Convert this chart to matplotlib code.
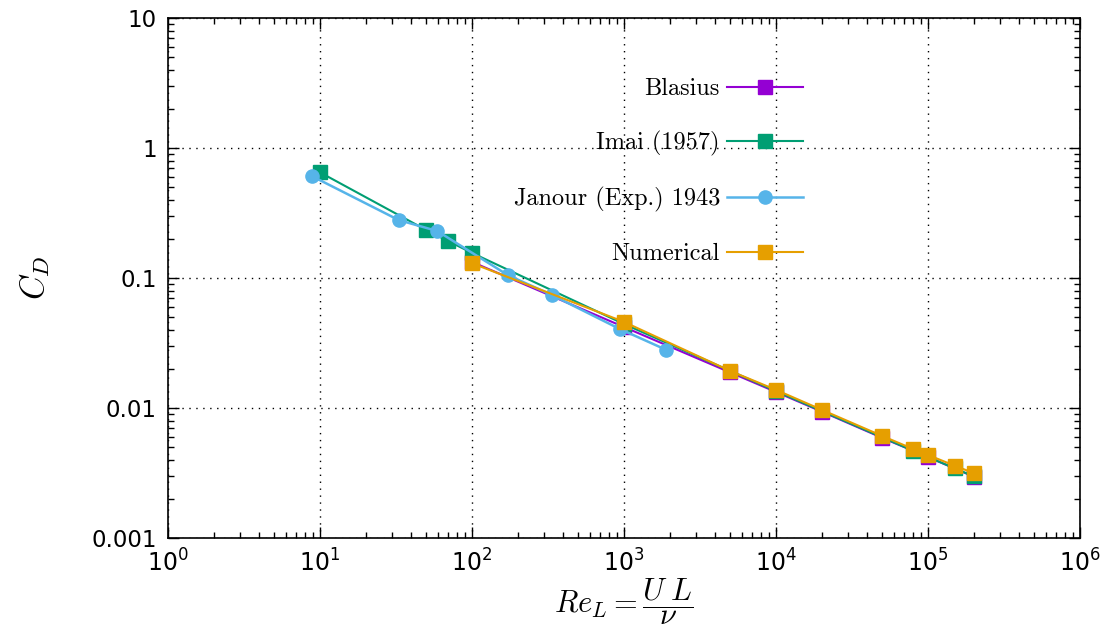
import matplotlib
matplotlib.use("Agg")
import matplotlib.pyplot as plt
from matplotlib.ticker import LogLocator, FixedFormatter, FixedLocator, NullFormatter

plt.rcParams['mathtext.fontset'] = 'cm'
plt.rcParams['font.family'] = ['DejaVu Sans']

# Data
blasius_re = [100, 1000, 5000, 1e4, 2e4, 5e4, 1e5, 2e5]
blasius_cd = [0.133, 0.042, 0.0188, 0.0133, 0.0094, 0.0059, 0.0042, 0.00297]

imai_re = [10, 50, 70, 100, 1000, 1e4, 8e4, 1.5e5, 2e5]
imai_cd = [0.65, 0.234, 0.192, 0.156, 0.0443, 0.0135, 0.00469, 0.00344, 0.00298]

janour_re = [8.8, 33, 59, 173, 336, 937, 1900]
janour_cd = [0.61, 0.279, 0.23, 0.105, 0.074, 0.0406, 0.028]

num_re = [100, 1000, 5000, 1e4, 2e4, 5e4, 8e4, 1e5, 1.5e5, 2e5]
num_cd = [0.130, 0.046, 0.0193, 0.0138, 0.0097, 0.0061, 0.00484, 0.00436, 0.0036, 0.00316]

x_ticks = [1, 10, 100, 1e3, 1e4, 1e5, 1e6]
x_labels = [r'$\mathdefault{10^{%d}}$' % i for i in range(7)]
y_ticks = [0.001, 0.01, 0.1, 1, 10]
y_labels = ['0.001', '0.01', '0.1', '1', '10']

fig = plt.figure(figsize=(11.03, 6.30), dpi=100)
ax = fig.add_axes([0.1523, 0.146, 0.8267, 0.8254])

c_purple = '#9400D3'
c_green = '#009E73'
c_blue = '#56B4E9'
c_orange = '#E69F00'

ax.plot(blasius_re, blasius_cd, '-s', color=c_purple, lw=1.5, ms=9.5, label='Blasius', zorder=3)
ax.plot(imai_re, imai_cd, '-s', color=c_green, lw=1.5, ms=9.5, label='Imai (1957)', zorder=4)
ax.plot(janour_re, janour_cd, '-o', color=c_blue, lw=1.8, ms=9.5, label='Janour (Exp.) 1943', zorder=5)
ax.plot(num_re, num_cd, '-s', color=c_orange, lw=1.5, ms=9.5, label='Numerical', zorder=6)

ax.set_xscale('log')
ax.set_yscale('log')
ax.set_xlim(1, 1e6)
ax.set_ylim(0.001, 10)

ax.xaxis.set_major_locator(FixedLocator(x_ticks))
ax.xaxis.set_major_formatter(FixedFormatter(x_labels))
ax.yaxis.set_major_locator(FixedLocator(y_ticks))
ax.yaxis.set_major_formatter(FixedFormatter(y_labels))
ax.xaxis.set_minor_locator(LogLocator(base=10, subs=range(2, 10), numticks=20))
ax.yaxis.set_minor_locator(LogLocator(base=10, subs=range(2, 10), numticks=20))
ax.xaxis.set_minor_formatter(NullFormatter())
ax.yaxis.set_minor_formatter(NullFormatter())

ax.tick_params(which='both', direction='in', top=True, right=True, width=1)
ax.tick_params(which='major', length=8, labelsize=16.5, pad=8)
ax.tick_params(which='minor', length=4)
for lab in ax.get_xticklabels():
    lab.set_fontsize(17)

ax.grid(True, which='major', color='black', linestyle=(0, (1, 4)), lw=1)
for s in ax.spines.values():
    s.set_linewidth(1.2)

ax.set_xlabel(r'$Re_L = \dfrac{U\;L}{\nu}$', fontsize=22, labelpad=0)
ax.set_ylabel(r'$C_D$', fontsize=24, labelpad=28)

leg = ax.legend(loc='upper right', bbox_to_anchor=(0.696, 0.884), frameon=False,
                markerfirst=False, handlelength=3.1, labelspacing=1.27,
                borderaxespad=0, borderpad=0,
                prop={'family': 'cmr10', 'size': 17.5}, handletextpad=0.3)

fig.savefig('out.png', dpi=100)
